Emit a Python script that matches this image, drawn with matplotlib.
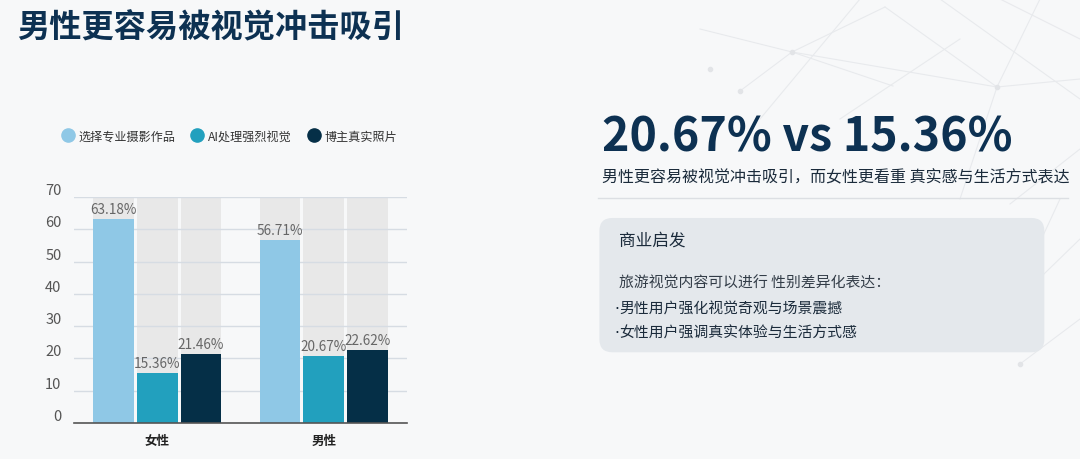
import matplotlib.pyplot as plt
import numpy as np
from matplotlib.lines import Line2D
from matplotlib.patches import FancyBboxPatch

plt.rcParams['font.family'] = ['Noto Sans CJK SC', 'DejaVu Sans']

groups = ['女性', '男性']
series = ['选择专业摄影作品', 'AI处理强烈视觉', '博主真实照片']
values = [
    [63.18, 56.71],
    [15.36, 20.67],
    [21.46, 22.62],
]
colors = ['#8fc8e6', '#22a0be', '#052f47']
yticks = [0, 10, 20, 30, 40, 50, 60, 70]

bg = '#f7f8f9'
navy = '#0d3152'
W, H = 1080, 460

fig = plt.figure(figsize=(10.8, 4.6), dpi=100, facecolor=bg)

# faint network decoration in the top right (pixel coords)
deco = [((700, 30), (792, 53)), ((792, 53), (885, 8)), ((792, 53), (997, 88)),
        ((740, 92), (792, 53)), ((792, 53), (893, 87)), ((885, 8), (997, 88)),
        ((997, 88), (1080, 80)), ((1040, 0), (997, 88)), ((997, 88), (960, 200)),
        ((940, 0), (1080, 100)), ((840, 120), (960, 40)), ((1010, 205), (1080, 150)),
        ((1010, 308), (1080, 240)), ((1060, 200), (1010, 308)), ((1020, 365), (1080, 320)),
        ((860, 0), (760, 120)), ((1000, 0), (1080, 40))]
for (x0, y0), (x1, y1) in deco:
    fig.add_artist(Line2D([x0 / W, x1 / W], [1 - y0 / H, 1 - y1 / H],
                          color='#e8eaed', linewidth=0.8, zorder=0))
for px, py in [(792, 53), (740, 92), (997, 88), (1010, 308), (1020, 365), (710, 70)]:
    fig.add_artist(Line2D([px / W], [1 - py / H], marker='o', markersize=3,
                          color='#e2e4e7', zorder=0))

fig.text(0.016, 0.94, '男性更容易被视觉冲击吸引', fontsize=23.2, fontweight='bold',
         color=navy, va='center', ha='left')

ax = fig.add_axes([0.0685, 0.078, 0.3083, 0.4918])
ax.set_facecolor(bg)
x = np.arange(len(groups))
width = 0.245
step = 0.263
for i, (vals, c) in enumerate(zip(values, colors)):
    pos = x + (i - 1) * step
    ax.bar(pos, [70] * len(pos), width=width, color='#e8e8e8', zorder=1)
    bars = ax.bar(pos, vals, width=width, color=c, zorder=3)
    for b, v in zip(bars, vals):
        ax.text(b.get_x() + b.get_width() / 2, v + 1.0, f'{v:.2f}%',
                ha='center', va='bottom', fontsize=9.8, color='#666666', zorder=4)

ax.set_xlim(-0.5, 1.5)
ax.set_ylim(0, 70)
ax.set_yticks(yticks)
ax.set_xticks(x)
ax.set_xticklabels(groups, fontsize=9, fontweight='bold', color='#222222')
ax.yaxis.grid(True, color='#d6dce3', linewidth=1, zorder=2)
ax.set_axisbelow(False)
for s in ['top', 'right', 'left']:
    ax.spines[s].set_visible(False)
ax.spines['bottom'].set_color('#555555')
ax.spines['bottom'].set_linewidth(1.2)
ax.spines['bottom'].set_zorder(5)
ax.tick_params(axis='y', length=0, pad=9, labelsize=10.5, labelcolor='#555555')
ax.tick_params(axis='x', length=0, pad=8)
for lab in ax.get_yticklabels():
    lab.set_va('bottom')

handles = [Line2D([], [], marker='o', linestyle='', markersize=9.5,
                  markerfacecolor=c, markeredgecolor=c) for c in colors]
fig.legend(handles, series, loc='center left', bbox_to_anchor=(0.046, 0.702),
           ncol=3, frameon=False, prop={'size': 8.7, 'weight': 'medium'},
           handletextpad=0.3, columnspacing=1.2, handlelength=1.2,
           labelcolor='#333333')

# right panel
fig.text(0.557, 0.70, '20.67% vs 15.36%', fontsize=33.5, fontweight='bold',
         color=navy, va='center', ha='left')
fig.text(0.557, 0.613, '男性更容易被视觉冲击吸引，而女性更看重 真实感与生活方式表达',
         fontsize=11.5, color='#1b2b3b', va='center', ha='left')
fig.add_artist(Line2D([0.554, 0.989], [0.567, 0.567], color='#dcdfe3', linewidth=1))

box = FancyBboxPatch((0.555, 0.232), 0.412, 0.292,
                     boxstyle='round,pad=0,rounding_size=0.012',
                     transform=fig.transFigure, facecolor='#e4e8ec',
                     edgecolor='none', mutation_aspect=2.35)
fig.add_artist(box)
fig.text(0.573, 0.476, '商业启发', fontsize=12, color='#1b2b3b', va='center')
fig.text(0.573, 0.383, '旅游视觉内容可以进行 性别差异化表达：', fontsize=10.7,
         color='#333d48', va='center')
for yy, line in [(0.328, '男性用户强化视觉奇观与场景震撼'),
                 (0.276, '女性用户强调真实体验与生活方式感')]:
    fig.text(0.5685, yy, '·', fontsize=11, color='#1b2b3b', va='center',
             family='DejaVu Sans')
    fig.text(0.5735, yy, line, fontsize=10.7, color='#1b2b3b', va='center')

fig.savefig('out.png', dpi=100, facecolor=bg)
